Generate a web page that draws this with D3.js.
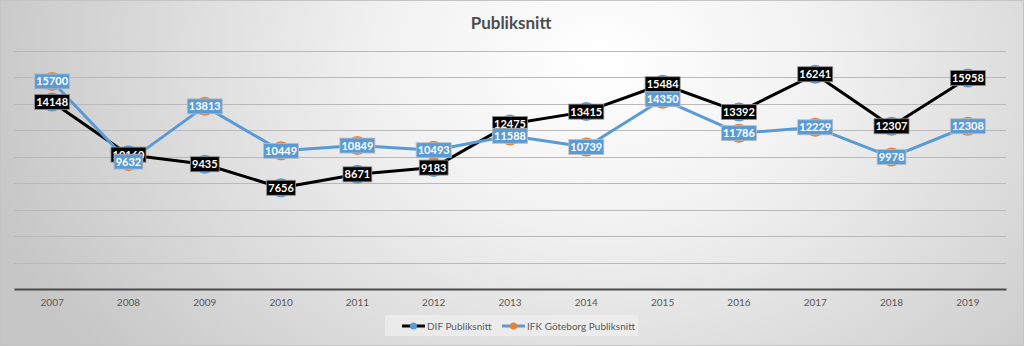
<!DOCTYPE html>
<html>
<head>
<meta charset="utf-8">
<script src="https://cdn.jsdelivr.net/npm/d3@7"></script>
<style>
  html, body { margin: 0; padding: 0; background: #fff; }
  svg { display: block; font-family: Lato, "Open Sans", sans-serif; }
</style>
</head>
<body>
<svg id="chart" width="1024" height="346"></svg>
<script>
// Season averages (Publiksnitt) per year
const years = ["2007","2008","2009","2010","2011","2012","2013","2014","2015","2016","2017","2018","2019"];
const difValues = [14148, 10160, 9435, 7656, 8671, 9183, 12475, 13415, 15484, 13392, 16241, 12307, 15958];
const ifkValues = [15700, 9632, 13813, 10449, 10849, 10493, 11588, 10739, 14350, 11786, 12229, 9978, 12308];
const yTicks = [0, 2000, 4000, 6000, 8000, 10000, 12000, 14000, 16000, 18000];
const seriesNames = ["DIF Publiksnitt", "IFK Göteborg Publiksnitt"];

const W = 1024, H = 346;
const svg = d3.select("#chart");

// Background: soft radial shading, light at the top centre
const defs = svg.append("defs");
const grad = defs.append("radialGradient")
  .attr("id", "bg").attr("gradientUnits", "userSpaceOnUse")
  .attr("cx", 600).attr("cy", 60).attr("r", 640)
  .attr("gradientTransform", "translate(600,60) scale(1,0.75) translate(-600,-60)");
grad.append("stop").attr("offset", "0%").attr("stop-color", "#ffffff");
grad.append("stop").attr("offset", "35%").attr("stop-color", "#f1f1f1");
grad.append("stop").attr("offset", "100%").attr("stop-color", "#c6c6c6");
svg.append("rect").attr("width", W).attr("height", H).attr("fill", "url(#bg)");
svg.append("rect").attr("x", 0.5).attr("y", 0.5).attr("width", W - 1).attr("height", H - 1)
  .attr("fill", "none").attr("stroke", "#c4c4c4");

// Scales
const plot = { left: 14, right: 1006, top: 51, bottom: 289 };
const x = d3.scaleBand().domain(years).range([plot.left, plot.right]);
const y = d3.scaleLinear().domain([0, 18000]).range([plot.bottom, plot.top]);
const cx = d => x(d) + x.bandwidth() / 2;

// Title
svg.append("text").attr("x", 511).attr("y", 29).attr("text-anchor", "middle")
  .attr("font-size", 17).attr("font-weight", "bold").attr("fill", "#4d4d4d")
  .text("Publiksnitt");

// Gridlines
svg.append("g").selectAll("line").data(yTicks.filter(t => t > 0)).join("line")
  .attr("x1", plot.left).attr("x2", plot.right)
  .attr("y1", d => Math.round(y(d)) + 0.5).attr("y2", d => Math.round(y(d)) + 0.5)
  .attr("stroke", "#b9b9b9").attr("stroke-width", 1.2);

// Category axis
const xAxis = svg.append("g").attr("transform", `translate(0,${plot.bottom})`)
  .call(d3.axisBottom(x).tickSize(0).tickPadding(10));
xAxis.select(".domain").attr("stroke", "#4a4a4a").attr("stroke-width", 2);
xAxis.selectAll("text").attr("font-size", 10).attr("fill", "#595959")
  .attr("font-family", "Lato, 'Open Sans', sans-serif");

// Lines
const line = d3.line().x((d, i) => cx(years[i])).y(d => y(d));
svg.append("path").datum(difValues).attr("d", line)
  .attr("fill", "none").attr("stroke", "#000").attr("stroke-width", 3).attr("stroke-linejoin", "round");
svg.append("path").datum(ifkValues).attr("d", line)
  .attr("fill", "none").attr("stroke", "#5b9bd5").attr("stroke-width", 3).attr("stroke-linejoin", "round");

// Markers
svg.append("g").selectAll("circle").data(difValues).join("circle")
  .attr("cx", (d, i) => cx(years[i])).attr("cy", d => y(d)).attr("r", 9.5)
  .attr("fill", "#5b9bd5");
svg.append("g").selectAll("circle").data(ifkValues).join("circle")
  .attr("cx", (d, i) => cx(years[i])).attr("cy", d => y(d)).attr("r", 9.5)
  .attr("fill", "#ed7d31");

// Value labels centred on each point
function labels(values, fill, stroke) {
  const g = svg.append("g").selectAll("g").data(values).join("g")
    .attr("transform", (d, i) => `translate(${cx(years[i])},${y(d)})`);
  g.each(function (d) {
    const w = String(d).length * 6.2 + 4;
    d3.select(this).append("rect")
      .attr("x", -w / 2).attr("y", -7.5).attr("width", w).attr("height", 15)
      .attr("fill", fill).attr("stroke", stroke).attr("stroke-width", 0.8);
    d3.select(this).append("text")
      .attr("text-anchor", "middle").attr("dy", "0.36em")
      .attr("font-size", 11).attr("font-weight", "bold").attr("fill", "#fff")
      .text(d);
  });
}
labels(difValues, "#000", "#8c8c8c");
labels(ifkValues, "#5b9bd5", "#bdbdbd");

// Legend
const legend = svg.append("g");
legend.append("rect").attr("x", 385).attr("y", 315).attr("width", 253).attr("height", 21)
  .attr("fill", "#f0f0f0").attr("fill-opacity", 0.7);
const items = [
  { name: seriesNames[0], x: 402, stroke: "#000", marker: "#5b9bd5" },
  { name: seriesNames[1], x: 502, stroke: "#5b9bd5", marker: "#ed7d31" }
];
items.forEach(it => {
  legend.append("line").attr("x1", it.x).attr("x2", it.x + 23).attr("y1", 326).attr("y2", 326)
    .attr("stroke", it.stroke).attr("stroke-width", 3);
  legend.append("circle").attr("cx", it.x + 11.5).attr("cy", 326).attr("r", 3.5).attr("fill", it.marker);
  legend.append("text").attr("x", it.x + 25).attr("y", 326).attr("dy", "0.35em")
    .attr("font-size", 10).attr("fill", "#595959").text(it.name);
});
</script>
</body>
</html>
